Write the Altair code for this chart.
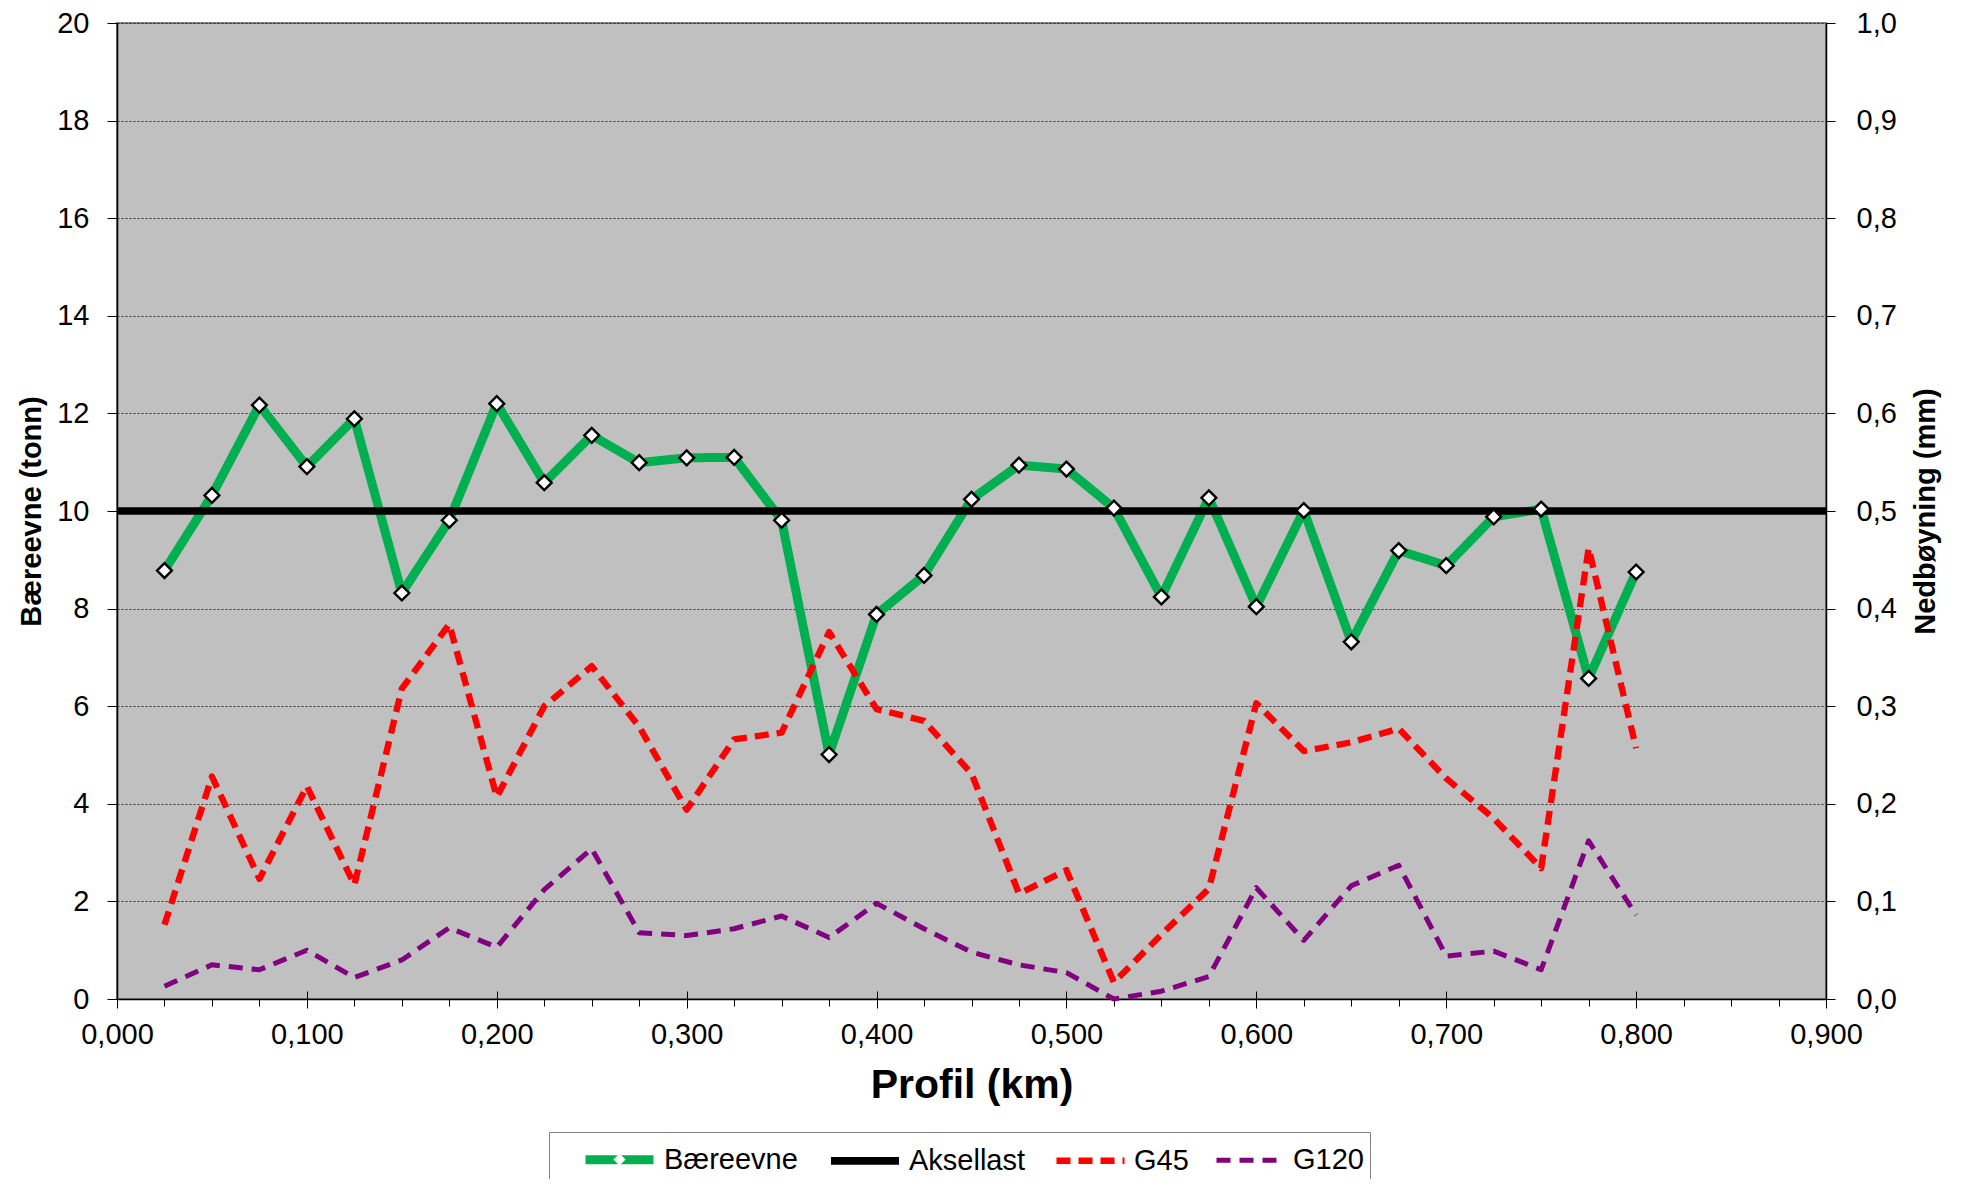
import altair as alt
import pandas as pd

# ---------------- data ----------------
profil_km = [0.025, 0.050, 0.075, 0.100, 0.125, 0.150, 0.175, 0.200,
             0.225, 0.250, 0.275, 0.300, 0.325, 0.350, 0.375, 0.400,
             0.425, 0.450, 0.475, 0.500, 0.525, 0.550, 0.575, 0.600,
             0.625, 0.650, 0.675, 0.700, 0.725, 0.750, 0.775, 0.800]

baereevne = [8.78, 10.32, 12.17, 10.91, 11.89, 8.32, 9.81, 12.20,
             10.58, 11.55, 10.99, 11.09, 11.10, 9.81, 5.01, 7.88,
             8.68, 10.24, 10.94, 10.86, 10.06, 8.24, 10.27, 8.04,
             10.01, 7.32, 9.19, 8.88, 9.88, 10.04, 6.57, 8.75]

g45 = [0.076, 0.228, 0.123, 0.218, 0.117, 0.318, 0.384, 0.207,
       0.300, 0.341, 0.279, 0.194, 0.266, 0.273, 0.376, 0.297,
       0.285, 0.231, 0.108, 0.132, 0.017, 0.066, 0.113, 0.303,
       0.254, 0.263, 0.277, 0.226, 0.185, 0.134, 0.462, 0.257]

g120 = [0.013, 0.035, 0.030, 0.050, 0.022, 0.040, 0.073, 0.053,
        0.112, 0.154, 0.068, 0.065, 0.072, 0.085, 0.063, 0.098,
        0.072, 0.048, 0.035, 0.027, 0.000, 0.008, 0.023, 0.114,
        0.060, 0.116, 0.137, 0.044, 0.049, 0.030, 0.162, 0.086]

aksellast_km = [0.0, 0.9]
aksellast = [10, 10]

series = ["Bæreevne", "Aksellast", "G45", "G120"]
colors = ["#00B050", "#000000", "#FF0000", "#800080"]
dashes = [[1, 0], [1, 0], [14, 8], [14, 9]]
widths = [9, 5, 4, 5]

x_major = [0.0, 0.1, 0.2, 0.3, 0.4, 0.5, 0.6, 0.7, 0.8, 0.9]
x_minor = [round(i * 0.025, 3) for i in range(37)]
y_left_ticks = [0, 2, 4, 6, 8, 10, 12, 14, 16, 18, 20]
y_right_ticks = [0.0, 0.1, 0.2, 0.3, 0.4, 0.5, 0.6, 0.7, 0.8, 0.9, 1.0]

# ---------------- tables ----------------
df_b = pd.DataFrame({"km": profil_km, "verdi": baereevne, "serie": "Bæreevne",
                     "markør": "Bæreevne"})
df_a = pd.DataFrame({"km": aksellast_km, "verdi": aksellast, "serie": "Aksellast"})
df_r = pd.concat([
    pd.DataFrame({"km": profil_km, "verdi": g45, "serie": "G45"}),
    pd.DataFrame({"km": profil_km, "verdi": g120, "serie": "G120"}),
])

FONT = "Liberation Sans"

# wide, flat line symbol (path scaled by sqrt(size)/2 -> 68 px long, 34 px slot)
legend = alt.Legend(
    title=" ", titleOrient="left", titlePadding=43, titleFontSize=10,
    orient="none", legendX=432, legendY=1109, direction="horizontal",
    symbolType="M-2,0H2", symbolSize=1156, labelFontSize=29, labelFont=FONT,
    labelColor="black", labelOffset=23, columnPadding=17, padding=6,
    strokeColor="#808080",
)

# diamond marker drawn on top of the green legend line
marker_legend = alt.Legend(
    title=None, orient="none", legendX=495, legendY=1129, padding=0,
    labelExpr="''", labelFontSize=1, labelOffset=0,
    symbolSize=150, symbolFillColor="white", symbolStrokeColor="black",
    symbolStrokeWidth=2.2, symbolOpacity=1,
)

xscale = alt.Scale(domain=[0, 0.9], nice=False, zero=False)
lscale = alt.Scale(domain=[0, 20], nice=False)
rscale = alt.Scale(domain=[0, 1], nice=False)


def style_enc():
    return dict(
        color=alt.Color("serie:N", scale=alt.Scale(domain=series, range=colors), legend=legend),
        strokeDash=alt.StrokeDash("serie:N", scale=alt.Scale(domain=series, range=dashes), legend=legend),
        strokeWidth=alt.StrokeWidth("serie:N", scale=alt.Scale(domain=series, range=widths), legend=legend),
    )


x_main_axis = alt.Axis(
    orient="bottom",
    values=x_major, labelExpr="replace(format(datum.value, '.3f'), '.', ',')",
    tickSize=9, labelPadding=12, labelFontSize=29, labelFlush=False, labelOverlap=False,
    title="Profil (km)", titleFontSize=41, titleFontWeight="bold", titlePadding=16,
    grid=False, domainColor="black", domainWidth=1.5,
)
x_minor_axis = alt.Axis(orient="bottom", values=x_minor, labels=False, tickSize=7,
                        domain=False, grid=False, title=None)
x_inner_axis = alt.Axis(orient="bottom", values=x_major, labels=False, tickSize=8,
                        domain=False, grid=False, title=None, offset=-8)

y_left_axis = alt.Axis(
    orient="left", values=y_left_ticks, format="d", tickSize=10, labelPadding=18,
    labelFontSize=29, title="Bæreevne (tonn)", titleFontSize=29, titleFontWeight="bold",
    titlePadding=10, grid=True, gridColor="#303030", gridDash=[2, 2], gridWidth=1,
    domainColor="black", domainWidth=1.5,
)
y_right_axis = alt.Axis(
    orient="right", values=y_right_ticks,
    labelExpr="replace(format(datum.value, '.1f'), '.', ',')",
    tickSize=9, labelPadding=21, labelFontSize=29,
    title="Nedbøyning (mm)", titleFontSize=29, titleFontWeight="bold",
    titleAngle=270, titleBaseline="top", titlePadding=15,
    grid=False, domainColor="black", domainWidth=1.5,
)

green = alt.Chart(df_b).mark_line(strokeJoin="round").encode(
    x=alt.X("km:Q", scale=xscale, axis=x_main_axis),
    y=alt.Y("verdi:Q", scale=lscale, axis=y_left_axis),
    **style_enc(),
)

black = alt.Chart(df_a).mark_line().encode(
    x=alt.X("km:Q", scale=xscale, axis=x_minor_axis),
    y=alt.Y("verdi:Q", scale=lscale, axis=None),
    **style_enc(),
)

points = alt.Chart(df_b).mark_point(
    filled=True, fill="white", stroke="black", strokeWidth=2.4, size=220, opacity=1
).encode(
    x=alt.X("km:Q", scale=xscale, axis=x_inner_axis),
    y=alt.Y("verdi:Q", scale=lscale, axis=None),
    shape=alt.Shape("markør:N", scale=alt.Scale(domain=["Bæreevne"], range=["diamond"]),
                    legend=marker_legend),
)

right = alt.Chart(df_r).mark_line(strokeJoin="round").encode(
    x=alt.X("km:Q", scale=xscale, axis=None),
    y=alt.Y("verdi:Q", scale=rscale, axis=y_right_axis),
    **style_enc(),
)

chart = alt.layer(green, black, points, right).resolve_scale(
    y="independent"
).resolve_axis(
    x="independent", y="independent"
).properties(
    width=1709, height=976,
    autosize=alt.AutoSizeParams(type="none"),
    padding={"left": 109, "top": 15, "right": 132, "bottom": 180},
    background="white",
).configure_view(
    fill="#C0C0C0", stroke="#808080", strokeWidth=2,
).configure_axis(
    labelFont=FONT, titleFont=FONT, labelColor="black", titleColor="black",
    tickColor="black", tickWidth=1,
)

chart.save("out.html", embed_options={"renderer": "svg", "actions": False})
